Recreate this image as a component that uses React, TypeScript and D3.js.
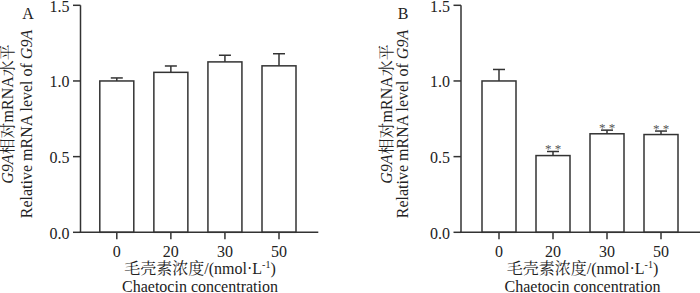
import React from "react";
import * as d3 from "d3";

const categories = ["0", "20", "30", "50"];
const valuesA = [1.0, 1.057, 1.126, 1.1];
const errorsA = [0.02, 0.042, 0.044, 0.08];
const valuesB = [1.0, 0.507, 0.651, 0.646];
const errorsB = [0.076, 0.027, 0.024, 0.023];
const starsB = ["", "* *", "* *", "* *"];
const yTicks = [0, 0.5, 1.0, 1.5];

const W = 700;
const H = 293;
const serif = "'Liberation Serif', 'Times New Roman', 'Noto Serif CJK SC', 'Noto Sans CJK SC', serif";
const ink = "#333";
const fs = 16;

const y = d3.scaleLinear().domain([0, 1.5]).range([232.3, 5.3]);

type PanelProps = {
  label: string;
  axisX: number;
  axisEnd: number;
  centers: [number, number];
  values: number[];
  errors: number[];
  stars?: string[];
  yl1: number;
  yl2: number;
  xLabelX: number;
  panelLabelX: number;
};

function Panel(p: PanelProps) {
  const x = d3.scalePoint<string>().domain(categories).range(p.centers);
  const bw = 34;
  const cap = 12;
  const y0 = y(0);
  return (
    <g>
      {categories.map((c, i) => {
        const cx = x(c)!;
        const top = y(p.values[i]);
        const et = y(p.values[i] + p.errors[i]);
        return (
          <g key={c}>
            <line x1={cx} x2={cx} y1={top} y2={et} stroke={ink} strokeWidth={1.5} />
            <line x1={cx - cap / 2} x2={cx + cap / 2} y1={et} y2={et} stroke={ink} strokeWidth={1.5} />
            <rect x={cx - bw / 2} y={top} width={bw} height={y0 - top} fill="#fff" stroke={ink} strokeWidth={1.5} />
            {p.stars && p.stars[i] ? (
              <text x={cx} y={et + 1.5} textAnchor="middle" fontSize={13} fill="#555" fontFamily={serif}>
                {p.stars[i]}
              </text>
            ) : null}
          </g>
        );
      })}
      <line x1={p.axisX} x2={p.axisX} y1={y(1.5)} y2={y0} stroke={ink} strokeWidth={1.5} />
      {yTicks.map((t) => (
        <g key={t}>
          <line x1={p.axisX - 7.5} x2={p.axisX} y1={y(t)} y2={y(t)} stroke={ink} strokeWidth={1.5} />
          <text x={p.axisX - 11} y={y(t) + 6.2} textAnchor="end" fontSize={fs} fill="#222" fontFamily={serif}>
            {t.toFixed(1)}
          </text>
        </g>
      ))}
      <line x1={p.axisX - 0.75} x2={p.axisEnd} y1={y0} y2={y0} stroke={ink} strokeWidth={1.5} />
      {categories.map((c) => (
        <g key={c}>
          <line x1={x(c)!} x2={x(c)!} y1={y0} y2={y0 + 7} stroke={ink} strokeWidth={1.5} />
          <text x={x(c)!} y={257} textAnchor="middle" fontSize={fs} fill="#222" fontFamily={serif}>
            {c}
          </text>
        </g>
      ))}
      <text x={p.xLabelX} y={273.5} textAnchor="middle" fontSize={fs} fill="#222" fontFamily={serif}>
        毛壳素浓度/(nmol·L
        <tspan fontSize={10} dy={-6}>-1</tspan>
        <tspan dy={6}>)</tspan>
      </text>
      <text x={p.xLabelX} y={291.5} textAnchor="middle" fontSize={fs} fill="#222" fontFamily={serif}>
        Chaetocin concentration
      </text>
      <text
        transform={`translate(${p.yl1},114) rotate(-90)`}
        textAnchor="middle"
        fontSize={fs}
        fill="#222"
        fontFamily={serif}
      >
        <tspan fontStyle="italic">G9A</tspan>相对mRNA水平
      </text>
      <text
        transform={`translate(${p.yl2},124) rotate(-90)`}
        textAnchor="middle"
        fontSize={fs}
        fill="#222"
        fontFamily={serif}
      >
        Relative mRNA level of <tspan fontStyle="italic">G9A</tspan>
      </text>
      <text x={p.panelLabelX} y={18.5} textAnchor="middle" fontSize={fs} fill="#222" fontFamily={serif}>
        {p.label}
      </text>
    </g>
  );
}

export default function App() {
  return (
    <svg width={W} height={H} style={{ position: "absolute", left: 0, top: 0, background: "#fff" }}>
      <rect width={W} height={H} fill="#fff" />
      <Panel
        label="A"
        axisX={80.5}
        axisEnd={318.3}
        centers={[116.8, 279]}
        values={valuesA}
        errors={errorsA}
        yl1={13}
        yl2={32}
        xLabelX={200}
        panelLabelX={28}
      />
      <Panel
        label="B"
        axisX={461}
        axisEnd={700}
        centers={[499, 661]}
        values={valuesB}
        errors={errorsB}
        stars={starsB}
        yl1={392}
        yl2={408}
        xLabelX={582.5}
        panelLabelX={403}
      />
    </svg>
  );
}
